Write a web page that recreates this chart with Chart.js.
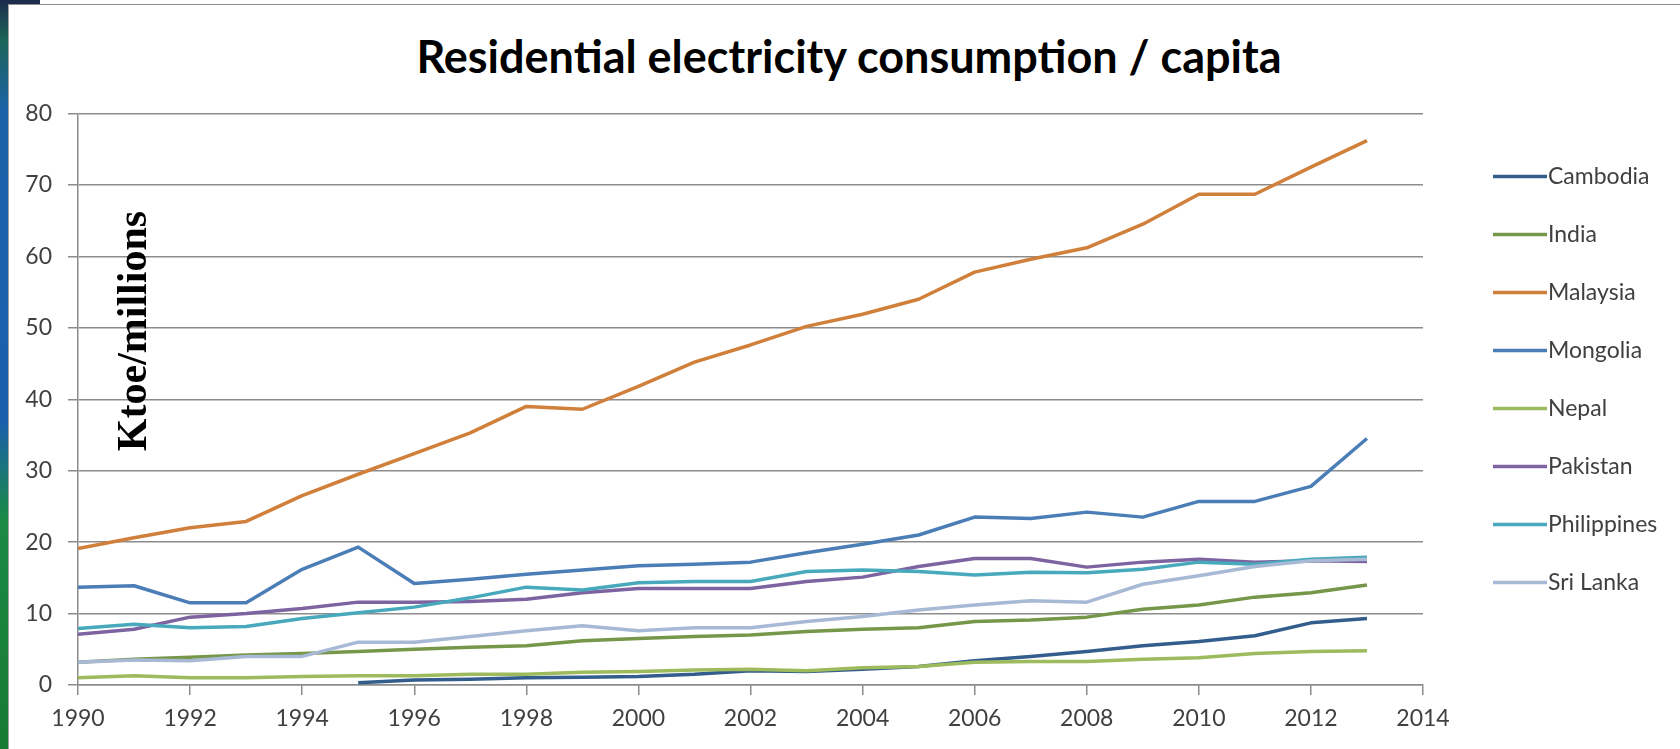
<!DOCTYPE html>
<html>
<head>
<meta charset="utf-8">
<title>Residential electricity consumption / capita</title>
<script src="https://cdn.jsdelivr.net/npm/chart.js@4.4.1/dist/chart.umd.min.js"></script>
<style>
  html, body { margin: 0; padding: 0; background: #fff; }
  body { width: 1680px; height: 749px; position: relative; overflow: hidden; }
  #strip {
    position: absolute; left: 0; top: 0; width: 8px; height: 749px;
    background: linear-gradient(to bottom, #1c2c4c 0px, #1d6458 40px, #1c62a8 110px, #1a5fae 420px, #1b8a44 520px, #177a33 749px);
  }
  #corner { position: absolute; left: 0; top: 0; width: 40px; height: 4px; background: #1c2c4c; }
  #panel {
    position: absolute; left: 8px; top: 4px; width: 1672px; height: 745px;
    border-top: 1px solid #8f8f8f; border-left: 1px solid #a0a0a0; box-sizing: border-box;
  }
  #wrap { position: absolute; left: 8px; top: 5px; width: 1672px; height: 744px; }
  #chartTitle {
    position: absolute; left: 400px; top: 34px; width: 898px;
    text-align: center; font: bold 45px/45px Lato, sans-serif; color: #000;
    white-space: nowrap;
  }
</style>
</head>
<body>
<div id="strip"></div>
<div id="corner"></div>
<div id="panel"></div>
<div id="chartTitle">Residential electricity consumption / capita</div>
<div id="wrap"><canvas id="energyChart"></canvas></div>
<script>
const years = [1990, 1991, 1992, 1993, 1994, 1995, 1996, 1997, 1998, 1999, 2000, 2001,
               2002, 2003, 2004, 2005, 2006, 2007, 2008, 2009, 2010, 2011, 2012, 2013];

const countries = ['Cambodia', 'India', 'Malaysia', 'Mongolia', 'Nepal', 'Pakistan', 'Philippines', 'Sri Lanka'];

const cambodia = [null, null, null, null, null, 0.3, 0.7, 0.8, 1.0, 1.1, 1.2, 1.5,
                  2.0, 1.9, 2.2, 2.6, 3.4, 4.0, 4.7, 5.5, 6.1, 6.9, 8.7, 9.3];
const india = [3.2, 3.6, 3.9, 4.2, 4.4, 4.7, 5.0, 5.3, 5.5, 6.2, 6.5, 6.8,
               7.0, 7.5, 7.8, 8.0, 8.9, 9.1, 9.5, 10.6, 11.2, 12.3, 12.9, 14.0];
const malaysia = [19.1, 20.6, 22.0, 22.9, 26.5, 29.5, 32.4, 35.3, 39.0, 38.6, 41.8, 45.2,
                  47.6, 50.2, 51.9, 54.0, 57.8, 59.6, 61.2, 64.5, 68.7, 68.7, 72.5, 76.2];
const mongolia = [13.7, 13.9, 11.5, 11.5, 16.2, 19.3, 14.2, 14.8, 15.5, 16.1, 16.7, 16.9,
                  17.2, 18.5, 19.7, 21.0, 23.5, 23.3, 24.2, 23.5, 25.7, 25.7, 27.8, 34.5];
const nepal = [1.0, 1.3, 1.0, 1.0, 1.2, 1.3, 1.3, 1.5, 1.5, 1.8, 1.9, 2.1,
               2.2, 2.0, 2.4, 2.6, 3.2, 3.3, 3.3, 3.6, 3.8, 4.4, 4.7, 4.8];
const pakistan = [7.1, 7.8, 9.5, 10.0, 10.7, 11.6, 11.6, 11.7, 12.0, 12.9, 13.5, 13.5,
                  13.5, 14.5, 15.1, 16.6, 17.7, 17.7, 16.5, 17.2, 17.6, 17.2, 17.4, 17.3];
const philippines = [7.9, 8.5, 8.0, 8.2, 9.3, 10.1, 10.9, 12.2, 13.7, 13.3, 14.3, 14.5,
                     14.5, 15.9, 16.1, 15.9, 15.4, 15.8, 15.7, 16.2, 17.2, 16.9, 17.6, 17.9];
const sriLanka = [3.2, 3.5, 3.4, 4.0, 4.0, 6.0, 6.0, 6.8, 7.6, 8.3, 7.6, 8.0,
                  8.0, 8.9, 9.6, 10.5, 11.2, 11.8, 11.6, 14.1, 15.3, 16.6, 17.4, 17.6];

const yTicks = [0, 10, 20, 30, 40, 50, 60, 70, 80];
const xTicks = [1990, 1992, 1994, 1996, 1998, 2000, 2002, 2004, 2006, 2008, 2010, 2012, 2014];

const seriesValues = [cambodia, india, malaysia, mongolia, nepal, pakistan, philippines, sriLanka];
const seriesColors = ['#335d8c', '#76964a', '#d0803a', '#4b7db6', '#9dbb5c', '#7d64a0', '#48a9bd', '#a8b9d6'];

const textColor = '#404040';
const gridColor = '#8c8c8c';

const datasets = countries.map((name, i) => ({
  label: name,
  data: years.map((yr, j) => ({ x: yr, y: seriesValues[i][j] })),
  borderColor: seriesColors[i],
  backgroundColor: seriesColors[i],
  borderWidth: 3.5,
  pointRadius: 0,
  pointHoverRadius: 0,
  tension: 0,
  fill: false,
  borderJoinStyle: 'round',
  order: countries.length - i
}));

// legend on the right and the rotated unit label inside the plot
const extrasPlugin = {
  id: 'extras',
  afterDraw(chart) {
    const ctx = chart.ctx;
    const area = chart.chartArea;
    ctx.save();

    ctx.font = 'bold 42px "Liberation Serif", "Times New Roman", serif';
    ctx.fillStyle = '#000';
    ctx.textAlign = 'center';
    ctx.textBaseline = 'alphabetic';
    ctx.translate(area.left + 68, 326);
    ctx.rotate(-Math.PI / 2);
    ctx.fillText('Ktoe/millions', 0, 0);
    ctx.setTransform(1, 0, 0, 1, 0, 0);

    const lineStart = area.right + 70;
    const lineEnd = lineStart + 54;
    ctx.font = '23px Lato, sans-serif';
    ctx.textAlign = 'left';
    ctx.textBaseline = 'middle';
    chart.data.datasets.forEach((ds, i) => {
      const y = area.top + 63 + i * 58;
      ctx.strokeStyle = ds.borderColor;
      ctx.lineWidth = 3.5;
      ctx.beginPath();
      ctx.moveTo(lineStart, y);
      ctx.lineTo(lineEnd, y);
      ctx.stroke();
      ctx.fillStyle = textColor;
      ctx.fillText(ds.label, lineEnd + 1, y);
    });
    ctx.restore();
  }
};

const ctx = document.getElementById('energyChart').getContext('2d');
const energyChart = new Chart(ctx, {
  type: 'line',
  data: { datasets: datasets },
  options: {
    responsive: true,
    maintainAspectRatio: false,
    animation: false,
    layout: { padding: { left: 0, right: 257, top: 108.5, bottom: 0 } },
    plugins: {
      legend: { display: false },
      tooltip: { enabled: false },
      title: { display: false }
    },
    scales: {
      x: {
        type: 'linear',
        min: 1990,
        max: 2014,
        afterBuildTicks: scale => { scale.ticks = xTicks.map(v => ({ value: v })); },
        afterFit: scale => { scale.height = 64; },
        ticks: {
          color: textColor,
          font: { family: 'Lato', size: 23 },
          padding: 10,
          maxRotation: 0,
          callback: v => String(v)
        },
        grid: { drawOnChartArea: false, drawTicks: true, tickLength: 10, color: gridColor, lineWidth: 1.5 },
        border: { color: gridColor, width: 1.5 }
      },
      y: {
        min: 0,
        max: 80,
        afterBuildTicks: scale => { scale.ticks = yTicks.map(v => ({ value: v })); },
        afterFit: scale => { scale.width = 70; },
        ticks: {
          color: textColor,
          font: { family: 'Lato', size: 23 },
          padding: 16
        },
        grid: { color: gridColor, lineWidth: 1.5, tickLength: 10 },
        border: { color: gridColor, width: 1.5 }
      }
    }
  },
  plugins: [extrasPlugin]
});
</script>
</body>
</html>
